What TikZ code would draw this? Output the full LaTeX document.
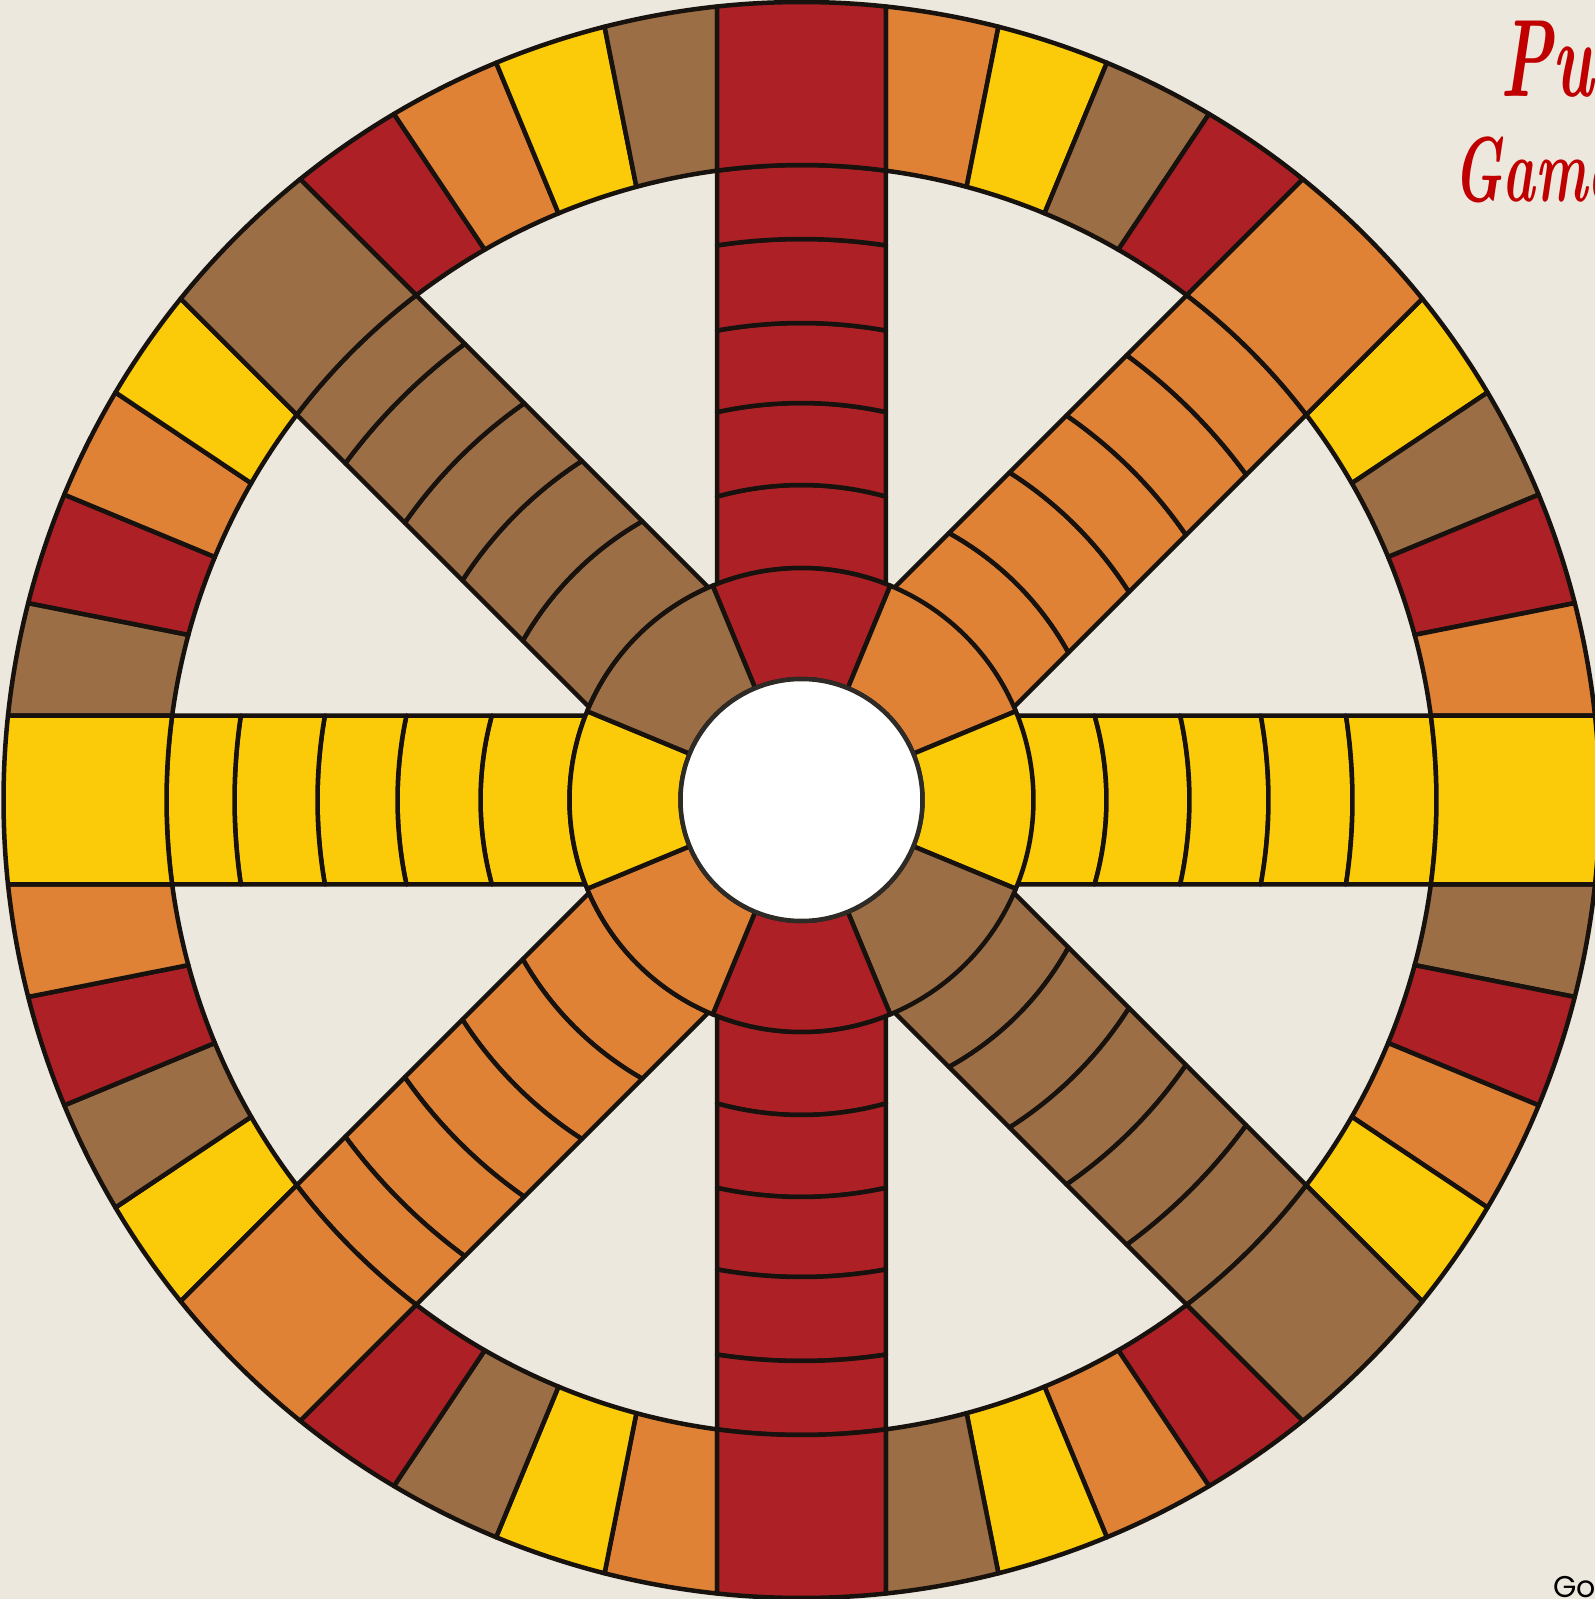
\documentclass[tikz,border=0pt]{standalone}
\usepackage{fontspec}
\newfontfamily\gofont{Poppins}
\definecolor{bg}{HTML}{EDE8DE}
\definecolor{cR}{HTML}{AD2126}
\definecolor{cO}{HTML}{E08236}
\definecolor{cY}{HTML}{FBCA08}
\definecolor{cB}{HTML}{9C6E45}
\definecolor{ink}{HTML}{17120E}
\definecolor{titlered}{HTML}{C00000}
\colorlet{col0}{cR}
\colorlet{col1}{cO}
\colorlet{col2}{cY}
\colorlet{col3}{cB}
\tikzset{cell/.style={draw=ink, line width=4.5pt, line join=round}}
\def\hw{84.5}
\def\Ro{798}
\def\Ri{635}
% spoke cell: #1 compass angle, #2 inner radius, #3 outer radius, #4 colour
\newcommand\spokecell[4]{%
  \pgfmathsetmacro\ma{90-(#1)}%
  \pgfmathsetmacro\da{asin(\hw/#3)}%
  \pgfmathsetmacro\db{asin(\hw/#2)}%
  \path[cell, fill=#4] (\ma-\da:#3pt) arc[start angle=\ma-\da, end angle=\ma+\da, radius=#3pt]
     -- (\ma+\db:#2pt) arc[start angle=\ma+\db, end angle=\ma-\db, radius=#2pt] -- cycle;
}
\newcommand\spoke[8]{%
  \spokecell{#1}{#3}{#4}{#2}%
  \spokecell{#1}{#4}{#5}{#2}%
  \spokecell{#1}{#5}{#6}{#2}%
  \spokecell{#1}{#6}{#7}{#2}%
  \spokecell{#1}{#7}{#8}{#2}%
  \spokecell{#1}{#8}{\Ro}{#2}%
}
% ring cell: #1 octant start compass angle, #2 index 0..3, #3 colour
\newcommand\ringcell[3]{%
  \pgfmathsetmacro\dO{asin(\hw/\Ro)}%
  \pgfmathsetmacro\dI{asin(\hw/\Ri)}%
  \pgfmathsetmacro\sO{(45-2*\dO)/4}%
  \pgfmathsetmacro\sI{(45-2*\dI)/4}%
  \pgfmathsetmacro\oa{90-((#1)+\dO+(#2)*\sO)}%
  \pgfmathsetmacro\ob{90-((#1)+\dO+((#2)+1)*\sO)}%
  \pgfmathsetmacro\ia{90-((#1)+\dI+(#2)*\sI)}%
  \pgfmathsetmacro\ib{90-((#1)+\dI+((#2)+1)*\sI)}%
  \path[cell, fill=#3] (\oa:\Ro pt) arc[start angle=\oa, end angle=\ob, radius=\Ro pt]
     -- (\ib:\Ri pt) arc[start angle=\ib, end angle=\ia, radius=\Ri pt] -- cycle;
}
\begin{document}
\begin{tikzpicture}
\useasboundingbox (-801.5pt,-799pt) rectangle (793.5pt,800pt);
\fill[bg] (-801.5pt,-799pt) rectangle (793.5pt,800pt);
% outer ring cells
\foreach \k in {0,...,7}{
  \foreach \j in {0,...,3}{
    \pgfmathtruncatemacro\n{mod(5*\k+\j+1,4)}
    \ringcell{45*\k}{\j}{col\n}
  }
}
% spokes
\spoke{0}{cR}{232}{315}{397}{477}{561}{\Ri}
\spoke{45}{cO}{231}{305}{388}{467}{551}{\Ri}
\spoke{90}{cY}{231}{305}{388}{467}{551}{\Ri}
\spoke{135}{cB}{231}{305}{388}{467}{551}{\Ri}
\spoke{180}{cR}{232}{315}{397}{477}{561}{\Ri}
\spoke{225}{cO}{232}{321}{404}{484}{567}{\Ri}
\spoke{270}{cY}{232}{321}{404}{484}{567}{\Ri}
\spoke{315}{cB}{232}{321}{404}{484}{567}{\Ri}
% hub sectors
\foreach \k in {0,...,7}{
  \pgfmathtruncatemacro\n{mod(\k,4)}
  \pgfmathsetmacro\ha{90-45*\k+22.5}
  \path[cell, fill=col\n] (\ha:232pt) arc[start angle=\ha, end angle=\ha-45, radius=232pt]
     -- (\ha-45:121pt) arc[start angle=\ha-45, end angle=\ha, radius=121pt] -- cycle;
}
% centre
\path[draw=ink!90, line width=4.5pt, fill=white] (0,0) circle[radius=121pt];
% texts
\node[anchor=base west, inner sep=0pt, text=titlered, xscale=0.6, transform shape, font=\bfseries\itshape\fontsize{110}{120}\selectfont] (title1) at (698.5pt,703pt) {Pun};
\node[anchor=base west, inner sep=0pt, text=titlered, xscale=0.6, transform shape, font=\bfseries\itshape\fontsize{92}{100}\selectfont] (title2) at (651.5pt,598pt) {Game};
\node[anchor=base west, inner sep=0pt, text=black, font=\gofont\fontsize{30}{32}\selectfont] (credit) at (751.5pt,-797pt) {Go};
\end{tikzpicture}
\end{document}
